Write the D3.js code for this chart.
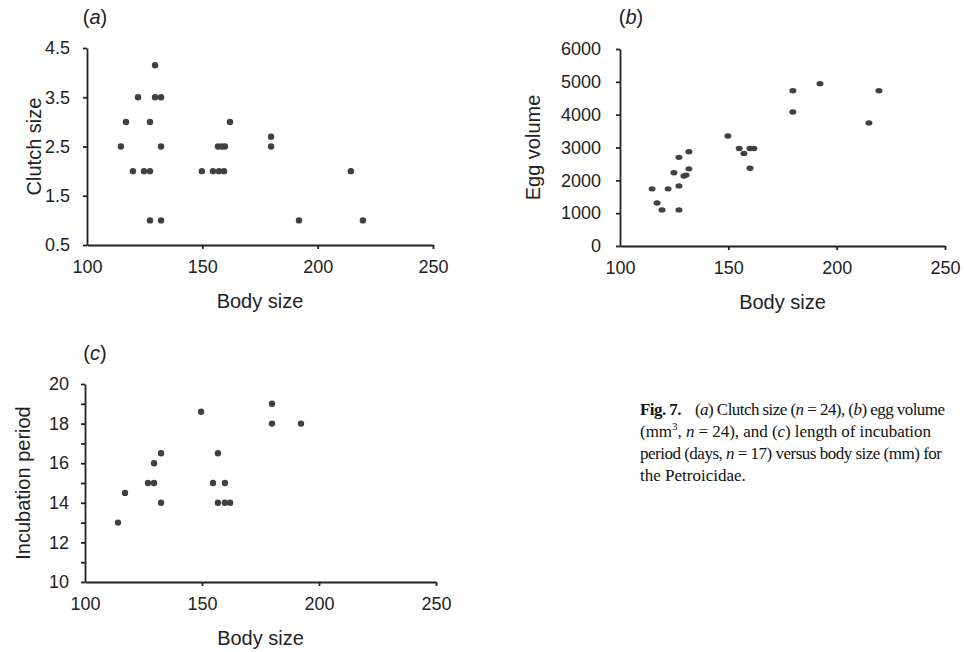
<!DOCTYPE html>
<html>
<head>
<meta charset="utf-8">
<script src="https://cdn.jsdelivr.net/npm/d3@7"></script>
<style>
  body { margin: 0; background: #fff; }
  svg { display: block; }
  .tick text { font-family: "Liberation Sans", Arial, sans-serif; font-size: 18px; fill: #222; }
  .axis path, .axis line { stroke: #222; stroke-width: 1.8; }
  .title { font-family: "Liberation Sans", Arial, sans-serif; font-size: 20px; fill: #222; }
  .caption { font-family: "Liberation Serif", "Times New Roman", serif; font-size: 17px; fill: #111; }
</style>
</head>
<body>
<div id="chart"></div>
<script>
/*  Data  */
var xTicks = [100, 150, 200, 250];

// (a) clutch size
var clutchBody = [129.5, 122.1, 129.5, 132.1, 116.9, 127.3, 114.7, 132.1, 119.9, 124.7, 127.3, 127.3, 132.1,
                  149.8, 154.6, 157.2, 159.4, 156.8, 158.5, 159.8, 162, 179.8, 179.8, 214.4, 191.9, 219.6];
var clutchSize = [4.15, 3.5, 3.5, 3.5, 3.0, 3.0, 2.5, 2.5, 2.0, 2.0, 2.0, 1.0, 1.0,
                  2.0, 2.0, 2.0, 2.0, 2.5, 2.5, 2.5, 3.0, 2.7, 2.5, 2.0, 1.0, 1.0];
var clutchTicks = [0.5, 1.5, 2.5, 3.5, 4.5];

// (b) egg volume
var eggBody = [114.8, 117.1, 119.4, 122.2, 124.9, 127.2, 127.2, 127.2, 129.5, 130.5, 131.8, 131.8,
               149.8, 155, 157.2, 160, 161.8, 160, 179.8, 179.8, 192.3, 214.9, 219.5];
var eggVolume = [1740, 1310, 1100, 1740, 2230, 2700, 1830, 1100, 2130, 2160, 2870, 2350,
                 3350, 2970, 2820, 2970, 2970, 2370, 4730, 4080, 4940, 3750, 4730];
var eggTicks = [0, 1000, 2000, 3000, 4000, 5000, 6000];

// (c) incubation period
var incBody = [114.1, 117.1, 126.9, 129.5, 129.5, 132.5, 132.5, 149.6, 156.8, 154.7, 159.8, 156.8, 159.8, 162,
               179.9, 179.9, 192.3];
var incPeriod = [13, 14.5, 15, 15, 16, 16.5, 14, 18.6, 16.5, 15, 15, 14, 14, 14, 19, 18, 18];
var incTicks = [10, 11, 12, 13, 14, 15, 16, 17, 18, 19, 20];
var incLabels = [10, 12, 14, 16, 18, 20];


var svg = d3.select("#chart").append("svg")
            .attr("width", 964)
            .attr("height", 652);

/*  One scatter panel  */
function panel(opt)
{
  var x = d3.scaleLinear().domain([100, 250]).range([opt.left, opt.right]);
  var y = d3.scaleLinear().domain(opt.yDomain).range([opt.bottom, opt.top]);

  svg.append("g")
     .attr("class", "axis")
     .attr("transform", "translate(0," + opt.bottom + ")")
     .call(d3.axisBottom(x).tickValues(xTicks).tickSizeInner(4).tickSizeOuter(0).tickPadding(11))
     .call(function(g){ g.selectAll(".tick").filter(function(d){ return d === 100; }).select("line").remove(); });

  svg.append("g")
     .attr("class", "axis")
     .attr("transform", "translate(" + opt.left + ",0)")
     .call(d3.axisLeft(y).tickValues(opt.yTicks).tickSizeInner(4).tickSizeOuter(0).tickPadding(opt.pad)
             .tickFormat(function(d){ return opt.labels.indexOf(d) === -1 ? "" : opt.fmt(d); }));

  svg.selectAll(".domain").attr("fill", "none");

  svg.append("g").selectAll("ellipse")
     .data(opt.xs)
     .join("ellipse")
     .attr("cx", function(d){ return x(d); })
     .attr("cy", function(d, i){ return y(opt.ys[i]); })
     .attr("rx", opt.rx)
     .attr("ry", opt.ry)
     .attr("fill", "#404040");

  svg.append("text")
     .attr("class", "title")
     .attr("x", (opt.left + opt.right) / 2)
     .attr("y", opt.bottom + 63)
     .attr("text-anchor", "middle")
     .text("Body size");

  svg.append("text")
     .attr("class", "title")
     .attr("transform", "translate(" + opt.yTitleX + "," + (opt.top + opt.bottom) / 2 + ") rotate(-90)")
     .attr("text-anchor", "middle")
     .text(opt.yTitle);

  var lab = svg.append("text")
     .attr("class", "title")
     .attr("x", opt.tagX)
     .attr("y", opt.tagY)
     .attr("text-anchor", "middle");
  lab.append("tspan").text("(");
  lab.append("tspan").attr("font-style", "italic").text(opt.tag);
  lab.append("tspan").text(")");
}

panel({ left: 87, right: 433, top: 48, bottom: 245, yDomain: [0.5, 4.5],
        yTicks: clutchTicks, labels: clutchTicks, fmt: d3.format(".1f"), pad: 13,
        xs: clutchBody, ys: clutchSize, rx: 3.2, ry: 3.2,
        yTitle: "Clutch size", yTitleX: 41, tag: "a", tagX: 95, tagY: 24 });

panel({ left: 620, right: 945, top: 49, bottom: 246, yDomain: [0, 6000],
        yTicks: eggTicks, labels: eggTicks, fmt: d3.format("d"), pad: 15,
        xs: eggBody, ys: eggVolume, rx: 3.5, ry: 2.7,
        yTitle: "Egg volume", yTitleX: 540, tag: "b", tagX: 631, tagY: 24 });

panel({ left: 85, right: 436, top: 384, bottom: 582, yDomain: [10, 20],
        yTicks: incTicks, labels: incLabels, fmt: d3.format("d"), pad: 12,
        xs: incBody, ys: incPeriod, rx: 3.2, ry: 3.2,
        yTitle: "Incubation period", yTitleX: 30, tag: "c", tagX: 95, tagY: 360 });


/*  Caption, lines squeezed to the widths of the printed block  */
var cap = svg.append("text").attr("class", "caption").attr("x", 640).attr("y", 415)
             .attr("textLength", 305).attr("lengthAdjust", "spacing");
cap.append("tspan").attr("font-weight", "bold").text("Fig. 7.");
cap.append("tspan").attr("dx", 14).text("(");
cap.append("tspan").attr("font-style", "italic").text("a");
cap.append("tspan").text(") Clutch size (");
cap.append("tspan").attr("font-style", "italic").text("n");
cap.append("tspan").text(" = 24), (");
cap.append("tspan").attr("font-style", "italic").text("b");
cap.append("tspan").text(") egg volume");

var cap2 = svg.append("text").attr("class", "caption").attr("x", 640).attr("y", 437)
              .attr("textLength", 291).attr("lengthAdjust", "spacing");
cap2.append("tspan").text("(mm");
cap2.append("tspan").attr("dy", -7).attr("font-size", "11px").text("3");
cap2.append("tspan").attr("dy", 7).text(", ");
cap2.append("tspan").attr("font-style", "italic").text("n");
cap2.append("tspan").text(" = 24), and (");
cap2.append("tspan").attr("font-style", "italic").text("c");
cap2.append("tspan").text(") length of incubation");

var cap3 = svg.append("text").attr("class", "caption").attr("x", 640).attr("y", 459)
              .attr("textLength", 302).attr("lengthAdjust", "spacing");
cap3.append("tspan").text("period (days, ");
cap3.append("tspan").attr("font-style", "italic").text("n");
cap3.append("tspan").text(" = 17) versus body size (mm) for");

svg.append("text").attr("class", "caption").attr("x", 640).attr("y", 481).text("the Petroicidae.");
</script>
</body>
</html>
